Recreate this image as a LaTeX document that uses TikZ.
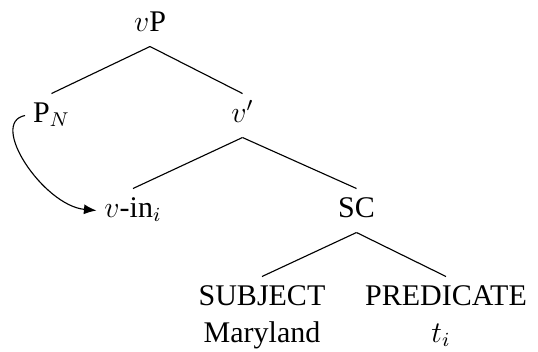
\documentclass[tikz,border=0pt,12pt]{standalone}
\usepackage{fontspec}
\setmainfont{Liberation Serif}
\usetikzlibrary{arrows.meta}

\begin{document}
\begin{tikzpicture}
[every node/.style={inner sep=3pt, text height=8.2pt, text depth=3pt, anchor=base},
 branch/.style={line width=0.45pt, color=black},
 move/.style={line width=0.45pt, -{Latex[length=5pt, width=4pt]}, color=black}]
\useasboundingbox (0pt, 0pt) rectangle (215.2pt, -140.4pt);
\node (vP) at (60.0pt, -12.4pt) {$v$P};
\node (PN) at (20.6pt, -48.8pt) {P$_N$};
\node (vbar) at (97.0pt, -48.8pt) {$v'$};
\node (vin) at (53.2pt, -86.8pt) {$v$-in$_i$};
\node (SC) at (142.6pt, -86.8pt) {SC};
\node (subj) at (104.8pt, -122.0pt) {SUBJECT};
\node (pred) at (178.4pt, -122.0pt) {PREDICATE};
\node (maryland) at (104.8pt, -136.8pt) {Maryland};
\node (trace) at (176.4pt, -136.8pt) {$t_i$};
\draw [branch] (vP.south) to (PN.north);
\draw [branch] (vP.south) to (vbar.north);
\draw [branch] (vbar.south) to (vin.north);
\draw [branch] (vbar.south) to (SC.north);
\draw [branch] (SC.south) to (subj.north);
\draw [branch] (SC.south) to (pred.north);
\draw [move] (PN.west) .. controls +(-14.8pt, -2.8pt) and +(-21.2pt, 2pt) .. (vin.west);
\end{tikzpicture}
\end{document}
